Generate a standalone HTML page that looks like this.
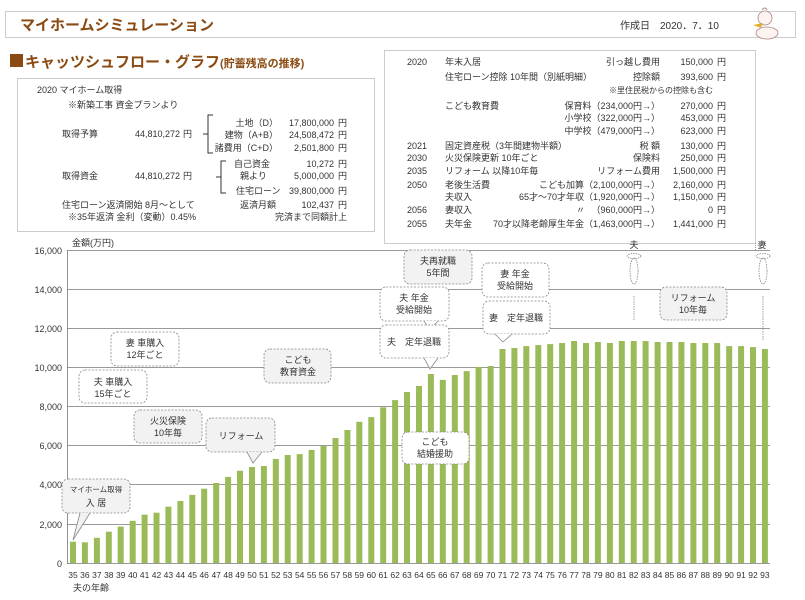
<!DOCTYPE html>
<html><head><meta charset="utf-8"><style>
html,body{margin:0;padding:0;background:#fff;}
svg{display:block;font-family:"Liberation Sans","Noto Sans CJK JP",sans-serif;}
.s{font-size:9px;fill:#333;}
.c{font-size:9px;fill:#333;text-anchor:middle;}
.r{font-size:9px;fill:#333;text-anchor:end;}
.ax{font-size:9px;fill:#333;text-anchor:end;}
.t{font-size:8.5px;fill:#333;text-anchor:middle;}
.cb{fill:#f2f2f2;stroke:#888;stroke-dasharray:2,1.5;stroke-width:0.8;}
</style></head><body>
<svg width="805" height="600" viewBox="0 0 805 600" xmlns="http://www.w3.org/2000/svg">
<rect x="5.5" y="11.5" width="790" height="26" fill="#fff" stroke="#ccc"/>
<text x="20" y="30" style="font-size:15px;font-weight:bold;fill:#8a4a12">マイホームシミュレーション</text>
<text x="620" y="29" style="font-size:10px;fill:#333">作成日　2020．7．10</text>
<g transform="translate(745,6)">
<ellipse cx="20" cy="12" rx="7" ry="7" fill="#fdf3f0" stroke="#a88" stroke-width="0.8"/>
<path d="M8 19 L18 17 L16 22 Z" fill="#e0b030"/>
<ellipse cx="22" cy="27" rx="11" ry="6" fill="#fdf3f0" stroke="#a88" stroke-width="0.8"/>
<path d="M17 4 q3 -4 5 0" stroke="#a88" fill="none"/>
</g>
<rect x="10" y="54" width="13" height="13" fill="#8a4a12"/>
<text x="25" y="67" style="font-size:15px;font-weight:bold;fill:#8a4a12">キャッツシュフロー・グラフ<tspan style="font-size:11px">(貯蓄残高の推移)</tspan></text>
<rect x="17.5" y="78.5" width="357" height="153" fill="none" stroke="#999" stroke-dasharray="1,1"/>
<g>
<text class="s" x="37" y="93">2020  マイホーム取得</text>
<text class="s" x="68" y="108">※新築工事  資金プランより</text>
<text class="s" x="62" y="137">取得予算</text>
<text class="r" x="180" y="137">44,810,272</text><text class="s" x="183" y="137">円</text>
<text class="s" x="62" y="179">取得資金</text>
<text class="r" x="180" y="179">44,810,272</text><text class="s" x="183" y="179">円</text>
<path d="M213 115 h-5 v38 h5 M203 134 h5" stroke="#333" fill="none"/>
<path d="M226 161 h-5 v32 h5 M216 177 h5" stroke="#333" fill="none"/>
<text class="r" x="278" y="126">土地（D）</text><text class="r" x="334" y="126">17,800,000</text><text class="s" x="338" y="126">円</text>
<text class="r" x="278" y="138">建物（A+B）</text><text class="r" x="334" y="138">24,508,472</text><text class="s" x="338" y="138">円</text>
<text class="r" x="278" y="151">諸費用（C+D）</text><text class="r" x="334" y="151">2,501,800</text><text class="s" x="338" y="151">円</text>
<text class="s" x="234" y="167">自己資金</text><text class="r" x="334" y="167">10,272</text><text class="s" x="338" y="167">円</text>
<text class="s" x="240" y="179">親より</text><text class="r" x="334" y="179">5,000,000</text><text class="s" x="338" y="179">円</text>
<text class="s" x="236" y="194">住宅ローン</text><text class="r" x="334" y="194">39,800,000</text><text class="s" x="338" y="194">円</text>
<text class="s" x="62" y="208">住宅ローン返済開始  8月～として</text>
<text class="s" x="240" y="208">返済月額</text><text class="r" x="334" y="208">102,437</text><text class="s" x="338" y="208">円</text>
<text class="s" x="68" y="220">※35年返済  金利（変動）0.45%</text>
<text class="s" x="275" y="220">完済まで同額計上</text>
</g>
<rect x="384.5" y="50.5" width="371" height="193" fill="none" stroke="#999" stroke-dasharray="1,1"/>
<line x1="755.5" y1="243" x2="755.5" y2="250" stroke="#999" stroke-dasharray="1,1"/>
<g>
<text class="s" x="407" y="65">2020</text><text class="s" x="445" y="65">年末入居</text><text class="r" x="660" y="65">引っ越し費用</text><text class="r" x="713" y="65">150,000</text><text class="s" x="717" y="65">円</text>
<text class="s" x="445" y="80">住宅ローン控除 10年間（別紙明細）</text><text class="r" x="660" y="80">控除額</text><text class="r" x="713" y="80">393,600</text><text class="s" x="717" y="80">円</text>
<text class="r" x="713" y="93" style="font-size:8px">※里住民税からの控除も含む</text>
<text class="s" x="445" y="109">こども教育費</text><text class="r" x="660" y="109">保育料（234,000円→）</text><text class="r" x="713" y="109">270,000</text><text class="s" x="717" y="109">円</text>
<text class="r" x="660" y="121">小学校（322,000円→）</text><text class="r" x="713" y="121">453,000</text><text class="s" x="717" y="121">円</text>
<text class="r" x="660" y="134">中学校（479,000円→）</text><text class="r" x="713" y="134">623,000</text><text class="s" x="717" y="134">円</text>
<text class="s" x="407" y="149">2021</text><text class="s" x="445" y="149">固定資産税（3年間建物半額）</text><text class="r" x="660" y="149">税 額</text><text class="r" x="713" y="149">130,000</text><text class="s" x="717" y="149">円</text>
<text class="s" x="407" y="161">2030</text><text class="s" x="445" y="161">火災保険更新 10年ごと</text><text class="r" x="660" y="161">保険料</text><text class="r" x="713" y="161">250,000</text><text class="s" x="717" y="161">円</text>
<text class="s" x="407" y="174">2035</text><text class="s" x="445" y="174">リフォーム 以降10年毎</text><text class="r" x="660" y="174">リフォーム費用</text><text class="r" x="713" y="174">1,500,000</text><text class="s" x="717" y="174">円</text>
<text class="s" x="407" y="188">2050</text><text class="s" x="445" y="188">老後生活費</text><text class="r" x="660" y="188">こども加算（2,100,000円→）</text><text class="r" x="713" y="188">2,160,000</text><text class="s" x="717" y="188">円</text>
<text class="s" x="445" y="200">夫収入</text><text class="r" x="660" y="200">65才～70才年収（1,920,000円→）</text><text class="r" x="713" y="200">1,150,000</text><text class="s" x="717" y="200">円</text>
<text class="s" x="407" y="213">2056</text><text class="s" x="445" y="213">妻収入</text><text class="s" x="576" y="213">〃</text><text class="r" x="660" y="213">（960,000円→）</text><text class="r" x="713" y="213">0</text><text class="s" x="717" y="213">円</text>
<text class="s" x="407" y="227">2055</text><text class="s" x="445" y="227">夫年金</text><text class="r" x="660" y="227">70才以降老齢厚生年金（1,463,000円→）</text><text class="r" x="713" y="227">1,441,000</text><text class="s" x="717" y="227">円</text>
</g>
<g stroke="#777" stroke-width="0.8">
<line x1="67" y1="250.5" x2="770" y2="250.5"/><line x1="67" y1="289.5" x2="770" y2="289.5"/>
<line x1="67" y1="328.5" x2="770" y2="328.5"/><line x1="67" y1="367.5" x2="770" y2="367.5"/>
<line x1="67" y1="406.5" x2="770" y2="406.5"/><line x1="67" y1="445.5" x2="770" y2="445.5"/>
<line x1="67" y1="484.5" x2="770" y2="484.5"/><line x1="67" y1="524.5" x2="770" y2="524.5"/>
<line x1="67" y1="563.5" x2="770" y2="563.5"/><line x1="67.5" y1="250" x2="67.5" y2="564"/>
</g>
<g>
<text class="ax" x="62" y="254">16,000</text><text class="ax" x="62" y="293">14,000</text>
<text class="ax" x="62" y="332">12,000</text><text class="ax" x="62" y="371">10,000</text>
<text class="ax" x="62" y="410">8,000</text><text class="ax" x="62" y="449">6,000</text>
<text class="ax" x="62" y="488">4,000</text><text class="ax" x="62" y="528">2,000</text>
<text class="ax" x="62" y="567">0</text>
<text class="s" x="72" y="246">金額(万円)</text>
<text class="s" x="73" y="591">夫の年齢</text>
</g>
<g fill="#9bbb59" transform="translate(0,563) scale(1,-1)">
<rect x="70.0" y="0" width="6" height="21.3"/><rect x="81.9" y="0" width="6" height="20.7"/><rect x="93.9" y="0" width="6" height="25.2"/><rect x="105.8" y="0" width="6" height="31.3"/><rect x="117.7" y="0" width="6" height="36.4"/><rect x="129.7" y="0" width="6" height="42.2"/><rect x="141.6" y="0" width="6" height="48.3"/><rect x="153.5" y="0" width="6" height="50.3"/><rect x="165.4" y="0" width="6" height="56.3"/><rect x="177.4" y="0" width="6" height="62.0"/>
<rect x="189.3" y="0" width="6" height="68.1"/><rect x="201.2" y="0" width="6" height="74.3"/><rect x="213.2" y="0" width="6" height="80.0"/><rect x="225.1" y="0" width="6" height="86.1"/><rect x="237.0" y="0" width="6" height="92.3"/><rect x="249.0" y="0" width="6" height="96.0"/><rect x="260.9" y="0" width="6" height="97.0"/><rect x="272.8" y="0" width="6" height="104.1"/><rect x="284.7" y="0" width="6" height="108.0"/><rect x="296.7" y="0" width="6" height="108.9"/>
<rect x="308.6" y="0" width="6" height="113.1"/><rect x="320.5" y="0" width="6" height="117.0"/><rect x="332.5" y="0" width="6" height="125.0"/><rect x="344.4" y="0" width="6" height="133.0"/><rect x="356.3" y="0" width="6" height="141.2"/><rect x="368.3" y="0" width="6" height="145.9"/><rect x="380.2" y="0" width="6" height="155.7"/><rect x="392.1" y="0" width="6" height="162.9"/><rect x="404.0" y="0" width="6" height="171.0"/><rect x="416.0" y="0" width="6" height="177.0"/>
<rect x="427.9" y="0" width="6" height="189.0"/><rect x="439.8" y="0" width="6" height="183.1"/><rect x="451.8" y="0" width="6" height="188.0"/><rect x="463.7" y="0" width="6" height="191.9"/><rect x="475.6" y="0" width="6" height="196.0"/><rect x="487.6" y="0" width="6" height="197.0"/><rect x="499.5" y="0" width="6" height="214.0"/><rect x="511.4" y="0" width="6" height="215.0"/><rect x="523.3" y="0" width="6" height="216.9"/><rect x="535.3" y="0" width="6" height="217.9"/>
<rect x="547.2" y="0" width="6" height="218.9"/><rect x="559.1" y="0" width="6" height="220.0"/><rect x="571.1" y="0" width="6" height="222.0"/><rect x="583.0" y="0" width="6" height="220.0"/><rect x="594.9" y="0" width="6" height="221.0"/><rect x="606.9" y="0" width="6" height="220.0"/><rect x="618.8" y="0" width="6" height="222.0"/><rect x="630.7" y="0" width="6" height="222.0"/><rect x="642.6" y="0" width="6" height="222.0"/><rect x="654.6" y="0" width="6" height="221.0"/>
<rect x="666.5" y="0" width="6" height="221.0"/><rect x="678.4" y="0" width="6" height="221.0"/><rect x="690.4" y="0" width="6" height="220.0"/><rect x="702.3" y="0" width="6" height="220.0"/><rect x="714.2" y="0" width="6" height="220.0"/><rect x="726.2" y="0" width="6" height="216.9"/><rect x="738.1" y="0" width="6" height="216.9"/><rect x="750.0" y="0" width="6" height="215.9"/><rect x="761.9" y="0" width="6" height="214.0"/>
</g>
<g>
<text class="t" x="73.0" y="578">35</text><text class="t" x="84.9" y="578">36</text><text class="t" x="96.9" y="578">37</text><text class="t" x="108.8" y="578">38</text><text class="t" x="120.7" y="578">39</text><text class="t" x="132.7" y="578">40</text><text class="t" x="144.6" y="578">41</text><text class="t" x="156.5" y="578">42</text><text class="t" x="168.4" y="578">43</text><text class="t" x="180.4" y="578">44</text>
<text class="t" x="192.3" y="578">45</text><text class="t" x="204.2" y="578">46</text><text class="t" x="216.2" y="578">47</text><text class="t" x="228.1" y="578">48</text><text class="t" x="240.0" y="578">49</text><text class="t" x="252.0" y="578">50</text><text class="t" x="263.9" y="578">51</text><text class="t" x="275.8" y="578">52</text><text class="t" x="287.7" y="578">53</text><text class="t" x="299.7" y="578">54</text>
<text class="t" x="311.6" y="578">55</text><text class="t" x="323.5" y="578">56</text><text class="t" x="335.5" y="578">57</text><text class="t" x="347.4" y="578">58</text><text class="t" x="359.3" y="578">59</text><text class="t" x="371.3" y="578">60</text><text class="t" x="383.2" y="578">61</text><text class="t" x="395.1" y="578">62</text><text class="t" x="407.0" y="578">63</text><text class="t" x="419.0" y="578">64</text>
<text class="t" x="430.9" y="578">65</text><text class="t" x="442.8" y="578">66</text><text class="t" x="454.8" y="578">67</text><text class="t" x="466.7" y="578">68</text><text class="t" x="478.6" y="578">69</text><text class="t" x="490.6" y="578">70</text><text class="t" x="502.5" y="578">71</text><text class="t" x="514.4" y="578">72</text><text class="t" x="526.3" y="578">73</text><text class="t" x="538.3" y="578">74</text>
<text class="t" x="550.2" y="578">75</text><text class="t" x="562.1" y="578">76</text><text class="t" x="574.1" y="578">77</text><text class="t" x="586.0" y="578">78</text><text class="t" x="597.9" y="578">79</text><text class="t" x="609.9" y="578">80</text><text class="t" x="621.8" y="578">81</text><text class="t" x="633.7" y="578">82</text><text class="t" x="645.6" y="578">83</text><text class="t" x="657.6" y="578">84</text>
<text class="t" x="669.5" y="578">85</text><text class="t" x="681.4" y="578">86</text><text class="t" x="693.4" y="578">87</text><text class="t" x="705.3" y="578">88</text><text class="t" x="717.2" y="578">89</text><text class="t" x="729.2" y="578">90</text><text class="t" x="741.1" y="578">91</text><text class="t" x="753.0" y="578">92</text><text class="t" x="764.9" y="578">93</text>
</g>
<g>
<rect class="cb" x="62" y="479" width="68" height="34" rx="6"/><path d="M80 513 L73 540 L90 513" fill="#f2f2f2" stroke="#888" stroke-width="0.8"/>
<text class="c" x="96" y="492" style="font-size:7.5px">マイホーム取得</text><text class="c" x="96" y="506">入 居</text>
<rect class="cb" x="79" y="370" width="68" height="33" rx="6" style="fill:#fff"/><text class="c" x="113" y="385">夫 車購入</text><text class="c" x="113" y="397">15年ごと</text>
<rect class="cb" x="111" y="332" width="68" height="34" rx="6" style="fill:#fff"/><text class="c" x="145" y="346">妻 車購入</text><text class="c" x="145" y="358">12年ごと</text>
<rect class="cb" x="134" y="410" width="68" height="33" rx="6"/><text class="c" x="168" y="424">火災保険</text><text class="c" x="168" y="436">10年毎</text>
<rect class="cb" x="206" y="418" width="69" height="34" rx="6"/><path d="M247 452 L253 463 L262 452" fill="#f2f2f2" stroke="#888" stroke-width="0.8"/><text class="c" x="241" y="439">リフォーム</text>
<rect class="cb" x="264" y="349" width="67" height="34" rx="6"/><text class="c" x="298" y="363">こども</text><text class="c" x="298" y="375">教育資金</text>
<rect class="cb" x="404" y="250" width="68" height="34" rx="6"/><text class="c" x="438" y="264">夫再就職</text><text class="c" x="438" y="276">5年間</text>
<rect class="cb" x="380" y="287" width="69" height="34" rx="6" style="fill:#fff"/><text class="c" x="414" y="301">夫 年金</text><text class="c" x="414" y="313">受給開始</text>
<path d="M424 321 L430 330 L438 321" fill="#fff" stroke="#888" stroke-width="0.8"/>
<rect class="cb" x="380" y="325" width="69" height="33" rx="6" style="fill:#fff"/><path d="M424 358 L430 369 L438 358" fill="#fff" stroke="#888" stroke-width="0.8"/><text class="c" x="414" y="345">夫　定年退職</text>
<rect class="cb" x="402" y="432" width="67" height="32" rx="6" style="fill:#fff"/><text class="c" x="435" y="445">こども</text><text class="c" x="435" y="457">結婚援助</text>
<rect class="cb" x="482" y="263" width="67" height="34" rx="6" style="fill:#fff"/><text class="c" x="515" y="277">妻 年金</text><text class="c" x="515" y="289">受給開始</text>
<rect class="cb" x="483" y="301" width="67" height="33" rx="6" style="fill:#fff"/><path d="M495 334 L503 342 L512 334" fill="#fff" stroke="#888" stroke-width="0.8"/><text class="c" x="516" y="321">妻　定年退職</text>
<rect class="cb" x="660" y="287" width="67" height="33" rx="6"/><text class="c" x="693" y="301">リフォーム</text><text class="c" x="693" y="313">10年毎</text>
</g>
<g fill="none" stroke="#888" stroke-width="0.8" stroke-dasharray="1.5,1">
<ellipse cx="634" cy="256" rx="7" ry="2.5"/><ellipse cx="634" cy="271" rx="4" ry="13"/>
<ellipse cx="763" cy="256" rx="7" ry="2.5"/><ellipse cx="763" cy="271" rx="4" ry="13"/>
<line x1="634" y1="296" x2="634" y2="320"/><line x1="763" y1="296" x2="763" y2="340"/>
</g>
<text class="c" x="634" y="248">夫</text><text class="c" x="762" y="248">妻</text>
</svg>
</body></html>
